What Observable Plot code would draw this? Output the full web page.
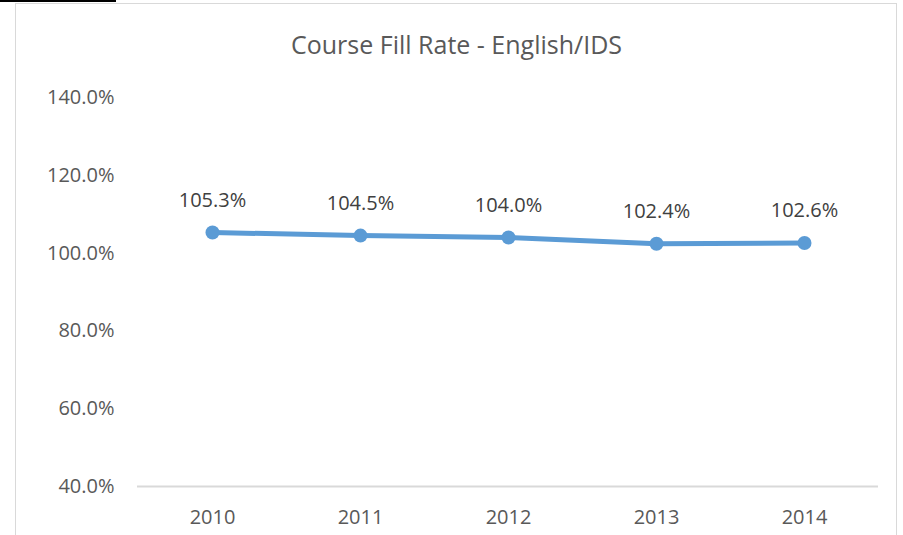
<!DOCTYPE html>
<html><head><meta charset="utf-8">
<script src="https://cdn.jsdelivr.net/npm/d3@7"></script>
<script src="https://cdn.jsdelivr.net/npm/@observablehq/plot@0.6"></script>
<style>
body{margin:0;background:#fff;font-family:"Open Sans",sans-serif}
#wrap{position:relative;width:903px;height:535px;overflow:hidden;background:#fff}
#border{position:absolute;left:15px;top:3px;width:882px;height:600px;border:1.5px solid #d9d9d9;box-sizing:border-box}
#blk{position:absolute;left:0;top:0;width:116px;height:2px;background:#000}
#title{position:absolute;top:29px;left:15px;width:883px;text-align:center;font-size:25px;line-height:30px;color:#595959}
#chart svg{position:absolute;left:0;top:0}
</style></head>
<body>
<div id="wrap">
  <div id="border"></div>
  <div id="blk"></div>
  <div id="chart"></div>
  <div id="title">Course Fill Rate - English/IDS</div>
</div>
<script>
const years = ["2010", "2011", "2012", "2013", "2014"];
const fillRate = [105.3, 104.5, 104.0, 102.4, 102.6];
const yTicks = [40, 60, 80, 100, 120, 140];

const data = years.map((y, i) => ({year: y, value: fillRate[i]}));
const blue = "#5B9BD5";

const chart = Plot.plot({
  width: 903,
  height: 535,
  marginLeft: 137,
  marginRight: 25,
  marginTop: 97,
  marginBottom: 49,
  style: {fontFamily: "'Open Sans', sans-serif", fontSize: "20px", color: "#595959", background: "transparent"},
  x: {type: "point", domain: years, padding: 0.5, label: null},
  y: {domain: [40, 140], label: null},
  marks: [
    Plot.axisY({ticks: yTicks, tickFormat: d => d.toFixed(1) + "%", tickSize: 0, tickPadding: 23, fontSize: 20, fill: "#595959", label: null}),
    Plot.axisX({tickSize: 0, tickPadding: 23, fontSize: 20, fill: "#595959", label: null}),
    Plot.ruleY([40], {stroke: "#d9d9d9", strokeWidth: 2}),
    Plot.line(data, {x: "year", y: "value", stroke: blue, strokeWidth: 5}),
    Plot.dot(data, {x: "year", y: "value", fill: blue, r: 7}),
    Plot.text(data, {x: "year", y: "value", text: d => d.value.toFixed(1) + "%", dy: -32, fontSize: 20, fill: "#404040"})
  ]
});
document.getElementById("chart").appendChild(chart);
</script>
</body></html>
